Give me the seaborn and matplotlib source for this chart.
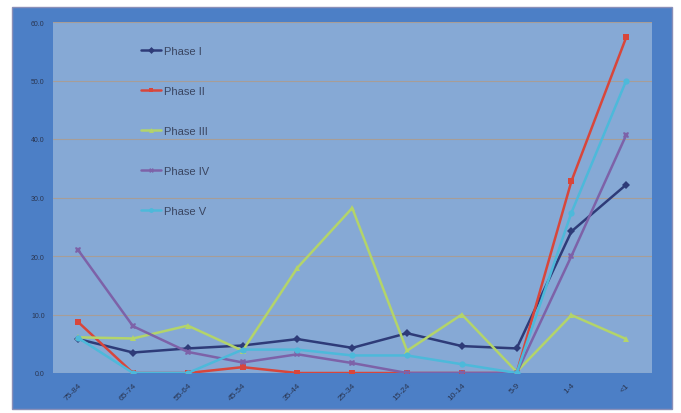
import matplotlib
matplotlib.use("Agg")
import matplotlib.pyplot as plt
import matplotlib.patches as mpatches
import numpy as np
import pandas as pd
import seaborn as sns

# Age groups along the x axis
age_groups = ["75-84", "65-74", "55-64", "45-54", "35-44", "25-34",
              "15-24", "10-14", "5-9", "1-4", "<1"]

phase_1 = [5.8, 3.5, 4.2, 4.7, 5.8, 4.3, 6.8, 4.6, 4.2, 24.2, 32.2]
phase_2 = [8.7, 0.0, 0.0, 1.0, 0.0, 0.0, 0.0, 0.0, 0.0, 32.8, 57.4]
phase_3 = [6.1, 5.9, 8.1, 3.8, 18.0, 28.2, 3.8, 10.0, 0.2, 9.9, 5.8]
phase_4 = [21.0, 8.0, 3.6, 1.8, 3.2, 1.7, 0.0, 0.0, 0.0, 20.0, 40.7]
phase_5 = [6.0, 0.0, 0.0, 4.0, 4.0, 3.0, 3.0, 1.5, 0.0, 27.4, 50.0]

series_names = ["Phase I", "Phase II", "Phase III", "Phase IV", "Phase V"]
series_values = [phase_1, phase_2, phase_3, phase_4, phase_5]
series_colors = ["#2E3B78", "#D8463B", "#B3D46A", "#7D62A8", "#4DB9DA"]
series_markers = ["D", "s", "^", "X", "o"]

y_ticks = [0, 10, 20, 30, 40, 50, 60]

rows = []
for name, vals in zip(series_names, series_values):
    for i, v in enumerate(vals):
        rows.append({"pos": i, "value": v, "phase": name})
df = pd.DataFrame(rows)

sns.set_theme(style="white")
plt.rcParams["font.family"] = ["Liberation Sans", "DejaVu Sans"]

W, H = 681, 414
fig = plt.figure(figsize=(W / 100, H / 100), dpi=100)
fig.patch.set_facecolor("white")

# blue outer chart frame, kept behind the plotting area
fig.patches.append(mpatches.Rectangle((12 / W, 1 - 410 / H), 660 / W, 402 / H,
                                      transform=fig.transFigure,
                                      facecolor="#4C7FC6", edgecolor="#8A8FB8",
                                      linewidth=1.0, zorder=-5))

ax = fig.add_axes([53 / W, 1 - 374 / H, 599 / W, 351 / H])
ax.set_zorder(1)
ax.set_facecolor("#86A9D5")

sns.lineplot(data=df, x="pos", y="value", hue="phase", style="phase",
             palette=dict(zip(series_names, series_colors)),
             markers=dict(zip(series_names, series_markers)),
             dashes=False, markersize=4.5, markeredgewidth=0,
             linewidth=1.8, ax=ax, legend=True)

ax.set_xlim(-0.46, 10.47)
ax.set_ylim(0, 60)
ax.set_yticks(y_ticks)
ax.set_yticklabels([f"{t:.1f}" for t in y_ticks], fontsize=5, color="#2A3550")
ax.set_xticks(range(len(age_groups)))
ax.set_xticklabels(age_groups, rotation=45, ha="right", rotation_mode="anchor",
                   fontsize=6, color="#2A3550")
ax.tick_params(axis="both", length=0, pad=6)
ax.set_xlabel("")
ax.set_ylabel("")
for s in ax.spines.values():
    s.set_visible(False)

ax.yaxis.grid(True, color="#AE9C8C", linewidth=0.8, alpha=0.85)
ax.set_axisbelow(True)

leg = ax.legend(loc="upper left", bbox_to_anchor=(0.13, 0.96), frameon=False,
                fontsize=8, labelspacing=2.7, handlelength=1.8,
                handletextpad=0.3, labelcolor="#3A4560")
for h in leg.legend_handles:
    h.set_markersize(3.5)

fig.savefig("out.png", dpi=100, facecolor=fig.get_facecolor())
